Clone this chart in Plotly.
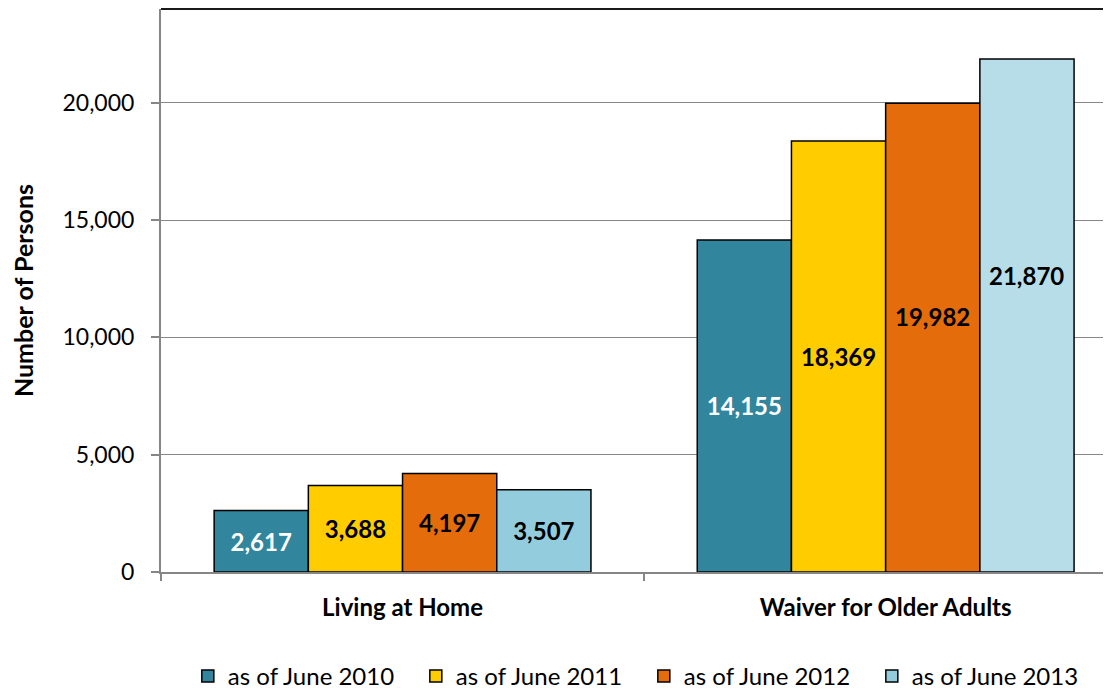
import plotly.graph_objects as go

categories = ["Living at Home", "Waiver for Older Adults"]
series_names = ["as of June 2010", "as of June 2011", "as of June 2012", "as of June 2013"]
v2010 = [2617, 14155]
v2011 = [3688, 18369]
v2012 = [4197, 19982]
v2013 = [3507, 21870]
values = [v2010, v2011, v2012, v2013]
colors = ["#31859C", "#FFCC00", "#E46C0A", ["#93CDDD", "#B7DEE8"]]
label_colors = ["white", "black", "black", "black"]
y_ticks = [0, 5000, 10000, 15000, 20000]

# labels in the original were nudged upward on these bars (series index, category index, pixel shift)
label_nudges = {(2, 1): 21, (3, 1): 40}

FONT = "Lato"
BARGAP = 0.22
n_series = len(series_names)
bar_w = (1 - BARGAP) / n_series

fig = go.Figure()
annotations = []
for si, (name, vals, col, lc) in enumerate(zip(series_names, values, colors, label_colors)):
    texts = []
    for ci, v in enumerate(vals):
        if (si, ci) in label_nudges:
            texts.append("")
            annotations.append(dict(
                x=ci + (si - (n_series - 1) / 2) * bar_w, y=v / 2, xref="x", yref="y",
                text=f"<b>{v:,}</b>", showarrow=False, yshift=label_nudges[(si, ci)],
                font=dict(family=FONT, size=24, color=lc),
            ))
        else:
            texts.append(f"{v:,}")
    fig.add_trace(go.Bar(
        x=categories, y=vals, name=name,
        marker=dict(color=col, line=dict(color="black", width=1.5)),
        text=texts,
        textposition="inside", insidetextanchor="middle", textangle=0,
        constraintext="none",
        insidetextfont=dict(family=FONT, size=24, color=lc, weight="bold"),
    ))

fig.update_layout(
    width=1111, height=691,
    margin=dict(l=153, r=0, t=1, b=127),
    paper_bgcolor="white", plot_bgcolor="white",
    barmode="group", bargap=BARGAP, bargroupgap=0,
    font=dict(family=FONT, size=21, color="black"),
    showlegend=True,
    legend=dict(orientation="h", x=0.504, xanchor="center", y=-0.2256, yanchor="bottom",
                font=dict(family=FONT, size=24), entrywidth=183, traceorder="normal",
                itemwidth=30),
    shapes=[dict(type="line", xref="paper", yref="paper", x0=0, x1=1, y0=1, y1=1,
                 line=dict(color="#1a1a1a", width=2))],
    annotations=annotations,
)
fig.update_xaxes(
    range=[-0.5, 1.483], tickson="boundaries", ticks="outside", ticklen=7, tickwidth=1.5,
    tickcolor="#868686", showline=True, linecolor="#868686", linewidth=2,
    tickfont=dict(family=FONT, size=24, weight="bold"), ticklabelstandoff=13,
    automargin=False,
)
fig.update_yaxes(
    range=[0, 24000], tickvals=y_ticks, tickformat=",", ticks="outside", ticklen=8,
    tickwidth=1.5, tickcolor="#868686", showline=True, linecolor="#868686", linewidth=2,
    showgrid=True, gridcolor="#868686", gridwidth=1.3, zeroline=False,
    tickfont=dict(family=FONT, size=23), ticklabelstandoff=12,
    title=dict(text="<b>Number of Persons</b>", font=dict(family=FONT, size=25), standoff=26),
    automargin=False,
)

fig.write_html("out.html")
